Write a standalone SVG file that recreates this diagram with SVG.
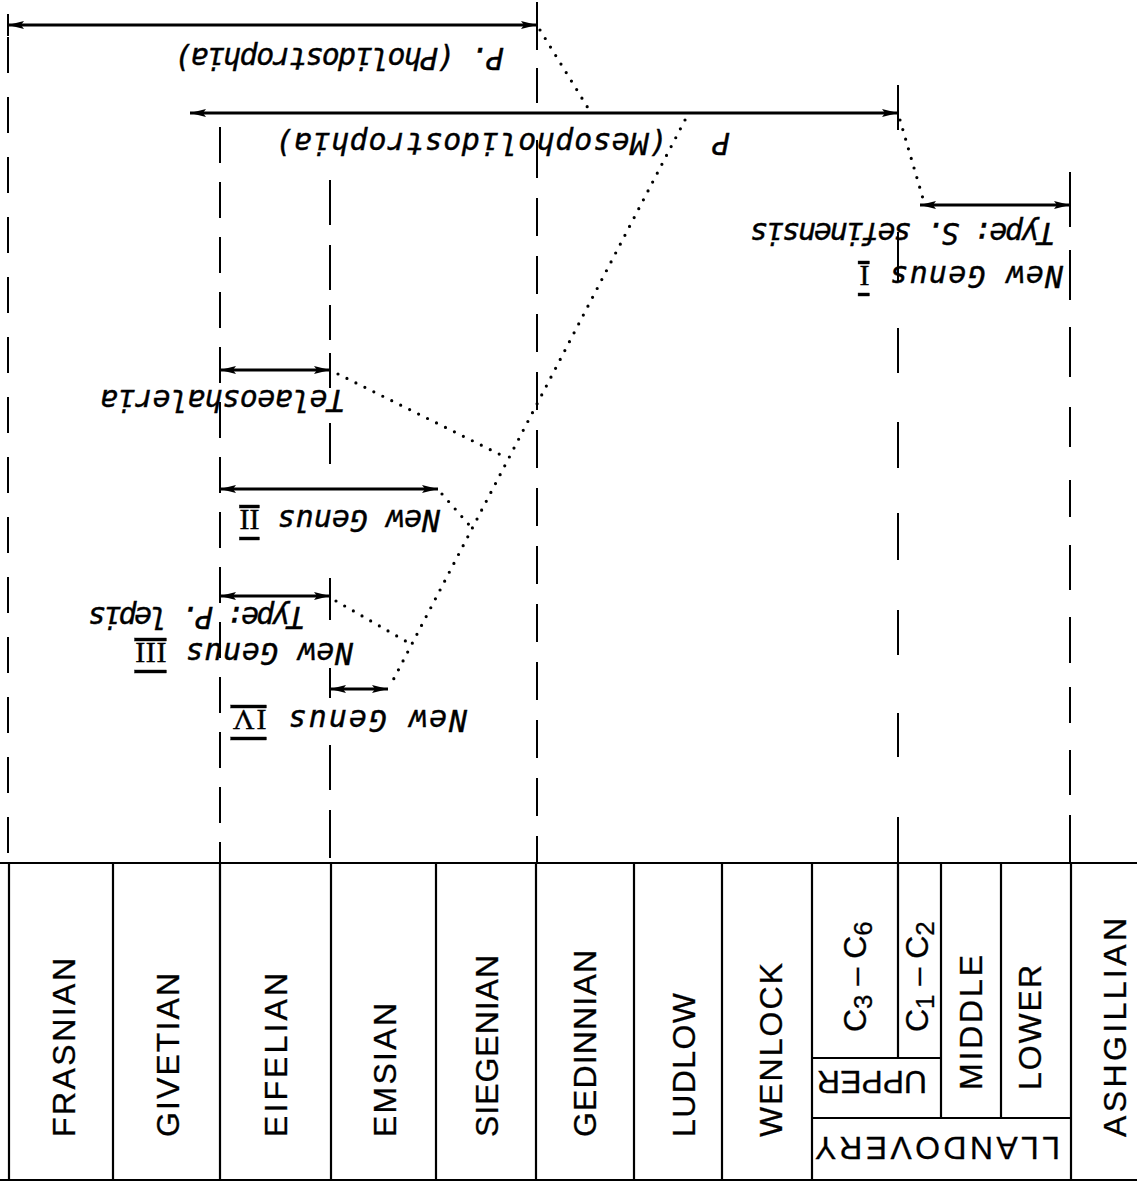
<svg xmlns="http://www.w3.org/2000/svg" width="1137" height="1182" viewBox="0 0 1137 1182">
<style>
.bg{fill:#fff}
.bar{stroke:#000;stroke-width:3;fill:none;marker-start:url(#ah);marker-end:url(#ah)}
.dash{stroke:#000;stroke-width:2;fill:none}
.dot{stroke:#000;stroke-width:3.2;fill:none;stroke-dasharray:0 10;stroke-linecap:round}
.tbl{stroke:#000;stroke-width:2.2;fill:none}
.lab{font-family:"DejaVu Sans Mono","Liberation Mono",monospace;font-style:oblique;font-size:30px;fill:#000;stroke:#000;stroke-width:0.4}
.col{font-family:"Liberation Sans","DejaVu Sans",sans-serif;font-size:32px;fill:#000;stroke:#000;stroke-width:0.3}
.rn{text-decoration:overline underline;font-style:normal;font-family:"Liberation Serif",serif}
</style>
<defs>
<marker id="ah" viewBox="0 0 16 10" markerWidth="16" markerHeight="10" refX="16" refY="5" orient="auto-start-reverse" markerUnits="userSpaceOnUse">
<path d="M0,1 L16,5 L0,9 L3,5 z" fill="#000"/>
</marker>
</defs>
<rect class="bg" x="0" y="0" width="1137" height="1182"/>

<g id="gridlines">
<path class="dash" d="M8,14 V36"/>
<path class="dash" d="M8,37 V860" stroke-dasharray="36 24"/>
<path class="dash" d="M220,127 V862" stroke-dasharray="36 19"/>
<path class="dash" d="M330,180 V225 M330,245 V290 M330,305 V340 M330,353 V388 M330,423 V464 M330,578 V620 M330,668 V698 M330,745 V790 M330,810 V858"/>
<path class="dash" d="M537,2 V50 M537,68 V103"/>
<path class="dash" d="M537,140 V862" stroke-dasharray="38 20"/>
<path class="dash" d="M898,85 V130 M898,232 V282 M898,328 V373 M898,422 V468 M898,513 V560 M898,610 V655 M898,713 V757 M898,817 V862"/>
<path class="dash" d="M1070,172 V227 M1070,250 V300 M1070,327 V377 M1070,407 V447 M1070,480 V517 M1070,545 V590 M1070,617 V663 M1070,687 V723 M1070,750 V795 M1070,815 V862"/>
</g>

<g id="connectors">
<path class="dot" d="M540,30 L588,108"/>
<path class="dot" d="M900,120 L924,202"/>
<path class="dot" d="M685,120 L390,686"/>
<path class="dot" d="M338,374 L507,458"/>
<path class="dot" d="M442,494 L471,527"/>
<path class="dot" d="M336,601 L409,643"/>
</g>

<g id="pholidostrophia">
<line class="bar" x1="8" y1="25" x2="537" y2="25"/>
<text class="lab" x="504" y="48" textLength="330" lengthAdjust="spacing" transform="rotate(180 504 48)">P. (Pholidostrophia)</text>
</g>

<g id="mesopholidostrophia">
<line class="bar" x1="190" y1="113" x2="898" y2="113"/>
<text class="lab" x="730" y="133" transform="rotate(180 730 133)">P</text>
<text class="lab" x="667" y="133" textLength="392" lengthAdjust="spacing" transform="rotate(180 667 133)">(Mesopholidostrophia)</text>
</g>

<g id="genus-1">
<line class="bar" x1="920" y1="205" x2="1070" y2="205"/>
<text class="lab" x="1055" y="223" textLength="305" lengthAdjust="spacing" transform="rotate(180 1055 223)">Type: S. sefinensis</text>
<text class="lab" x="1063" y="266" letter-spacing="1.3" transform="rotate(180 1063 266)">New Genus <tspan class="rn">I</tspan></text>
</g>

<g id="telaeoshaleria">
<line class="bar" x1="220" y1="370" x2="330" y2="370"/>
<text class="lab" x="345" y="390" textLength="245" lengthAdjust="spacing" transform="rotate(180 345 390)">Telaeoshaleria</text>
</g>

<g id="genus-2">
<line class="bar" x1="220" y1="489" x2="438" y2="489"/>
<text class="lab" x="440" y="510" transform="rotate(180 440 510)">New Genus <tspan class="rn">II</tspan></text>
</g>

<g id="genus-3">
<line class="bar" x1="220" y1="596" x2="330" y2="596"/>
<text class="lab" x="305" y="607" textLength="217" lengthAdjust="spacing" transform="rotate(180 305 607)">Type: P. lepis</text>
<text class="lab" x="353" y="643" letter-spacing="0.6" transform="rotate(180 353 643)">New Genus <tspan class="rn">III</tspan></text>
</g>

<g id="genus-4">
<line class="bar" x1="330" y1="689" x2="388" y2="689"/>
<text class="lab" x="467" y="710" letter-spacing="2" transform="rotate(180 467 710)">New Genus <tspan class="rn">IV</tspan></text>
</g>

<g id="stage-table">
<line class="tbl" x1="0" y1="863" x2="1137" y2="863" stroke-width="3"/>
<line class="tbl" x1="0" y1="1180" x2="1137" y2="1180"/>
<path class="tbl" d="M9,863 V1180 M113,863 V1180 M220,863 V1180 M331,863 V1180 M436,863 V1180 M536,863 V1180 M634,863 V1180 M722,863 V1180 M812,863 V1180 M1071,863 V1180"/>
<path class="tbl" d="M898,863 V1058 M941,863 V1118 M1001,863 V1118 M812,1058 H941 M812,1118 H1071"/>
</g>

<g id="stage-labels">
<text class="col" x="75" y="1137" textLength="179" lengthAdjust="spacing" transform="rotate(-90 75 1137)">FRASNIAN</text>
<text class="col" x="179" y="1137" textLength="164" lengthAdjust="spacing" transform="rotate(-90 179 1137)">GIVETIAN</text>
<text class="col" x="287" y="1137" textLength="164" lengthAdjust="spacing" transform="rotate(-90 287 1137)">EIFELIAN</text>
<text class="col" x="396" y="1137" textLength="134" lengthAdjust="spacing" transform="rotate(-90 396 1137)">EMSIAN</text>
<text class="col" x="498" y="1137" textLength="182" lengthAdjust="spacing" transform="rotate(-90 498 1137)">SIEGENIAN</text>
<text class="col" x="596" y="1137" textLength="187" lengthAdjust="spacing" transform="rotate(-90 596 1137)">GEDINNIAN</text>
<text class="col" x="695" y="1137" textLength="144" lengthAdjust="spacing" transform="rotate(-90 695 1137)">LUDLOW</text>
<text class="col" x="782" y="1137" textLength="174" lengthAdjust="spacing" transform="rotate(-90 782 1137)">WENLOCK</text>
<text class="col" x="866" y="1032" transform="rotate(-90 866 1032)">C<tspan dy="6" font-size="26">3</tspan><tspan dy="-6"> – C</tspan><tspan dy="6" font-size="26">6</tspan></text>
<text class="col" x="928" y="1032" transform="rotate(-90 928 1032)">C<tspan dy="6" font-size="26">1</tspan><tspan dy="-6"> – C</tspan><tspan dy="6" font-size="26">2</tspan></text>
<text class="col" x="982" y="1090" textLength="135" lengthAdjust="spacing" transform="rotate(-90 982 1090)">MIDDLE</text>
<text class="col" x="1041" y="1090" textLength="125" lengthAdjust="spacing" transform="rotate(-90 1041 1090)">LOWER</text>
<text class="col" x="927" y="1071" textLength="110" lengthAdjust="spacing" transform="rotate(180 927 1071)">UPPER</text>
<text class="col" x="1060" y="1137" textLength="245" lengthAdjust="spacing" transform="rotate(180 1060 1137)">LLANDOVERY</text>
<text class="col" x="1126" y="1137" textLength="219" lengthAdjust="spacing" transform="rotate(-90 1126 1137)">ASHGILLIAN</text>
</g>
</svg>
